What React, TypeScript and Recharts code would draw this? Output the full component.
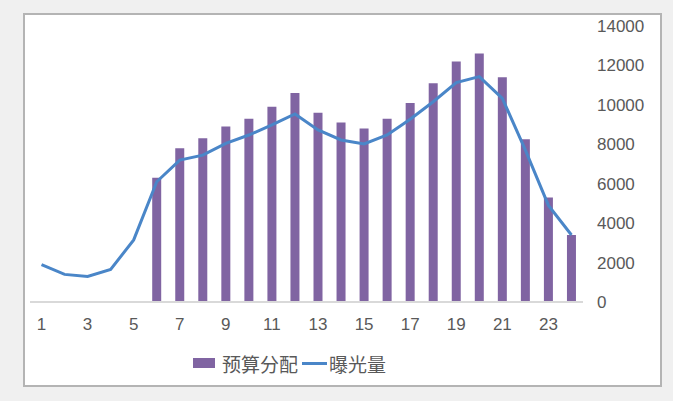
import React from 'react';
import { ComposedChart, Bar, Line, XAxis, YAxis } from 'recharts';

const hours = [1, 2, 3, 4, 5, 6, 7, 8, 9, 10, 11, 12, 13, 14, 15, 16, 17, 18, 19, 20, 21, 22, 23, 24];
const budget = [null, null, null, null, null, 6300, 7800, 8300, 8900, 9300, 9900, 10600, 9600, 9100, 8800, 9300, 10100, 11100, 12200, 12600, 11400, 8250, 5300, 3400];
const exposure = [1900, 1400, 1300, 1650, 3150, 6100, 7200, 7450, 8050, 8470, 8980, 9540, 8730, 8220, 8020, 8470, 9270, 10160, 11130, 11430, 10330, 7700, 4900, 3400];
const yTicks = [0, 2000, 4000, 6000, 8000, 10000, 12000, 14000];
const seriesNames = ['预算分配', '曝光量'];

const data = hours.map((h, i) => ({ hour: String(h), budget: budget[i], exposure: exposure[i] }));

const BAR_COLOR = '#8064A2';
const LINE_COLOR = '#4A86C8';
const TEXT_COLOR = '#595959';

export default function App() {
  return (
    <div style={{ position: 'fixed', left: 0, top: 0, width: 673, height: 401, background: '#f0f0f0', overflow: 'hidden' }}>
      <div
        style={{
          position: 'absolute',
          left: 23,
          top: 13,
          width: 639,
          height: 374,
          border: '2px solid #b4b4b4',
          background: '#ffffff',
          boxSizing: 'border-box',
        }}
      />
      <div style={{ position: 'absolute', left: 0, top: 0 }}>
        <ComposedChart width={673} height={401} data={data} margin={{ top: 26, right: 30, left: 30, bottom: 69 }}>
          <XAxis
            dataKey="hour"
            interval={1}
            tickLine={false}
            axisLine={{ stroke: '#d9d9d9', strokeWidth: 2 }}
            tickMargin={10}
            height={30}
            tick={{ fill: TEXT_COLOR, fontSize: 17, fontFamily: 'Liberation Sans, Arial, sans-serif' }}
          />
          <YAxis
            orientation="right"
            domain={[0, 14000]}
            ticks={yTicks}
            interval={0}
            axisLine={false}
            tickLine={false}
            tickMargin={8}
            width={60}
            tick={{ fill: TEXT_COLOR, fontSize: 17, fontFamily: 'Liberation Sans, Arial, sans-serif', textAnchor: 'start' }}
          />
          <Bar dataKey="budget" name={seriesNames[0]} fill={BAR_COLOR} barSize={9} isAnimationActive={false} />
          <Line
            dataKey="exposure"
            name={seriesNames[1]}
            type="linear"
            stroke={LINE_COLOR}
            strokeWidth={3}
            dot={false}
            activeDot={false}
            isAnimationActive={false}
          />
        </ComposedChart>
      </div>
      <div
        style={{
          position: 'absolute',
          left: 193,
          top: 350,
          height: 26,
          display: 'flex',
          alignItems: 'center',
          fontFamily: '"Noto Sans CJK SC", sans-serif',
          fontSize: 19,
          color: TEXT_COLOR,
          whiteSpace: 'nowrap',
        }}
      >
        <span style={{ display: 'inline-block', width: 22, height: 10, background: BAR_COLOR, marginRight: 7 }} />
        <span>{seriesNames[0]}</span>
        <span style={{ display: 'inline-block', width: 25, height: 3, background: LINE_COLOR, marginLeft: 4, marginRight: 2 }} />
        <span>{seriesNames[1]}</span>
      </div>
    </div>
  );
}
